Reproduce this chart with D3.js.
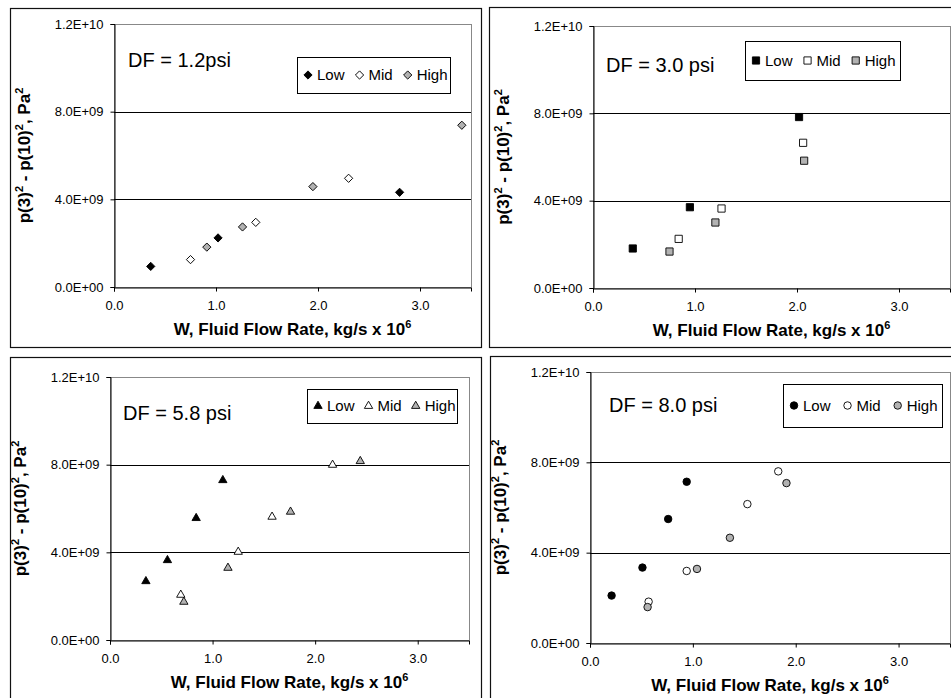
<!DOCTYPE html>
<html>
<head>
  <style>
    body { margin: 0; background: #fff; }
    svg { font-family: "Liberation Sans", Arial, sans-serif; }
  </style>
</head>
<body>
  <svg width="951" height="698"></svg>
  <script src="https://d3js.org/d3.v7.min.js"></script>
  <script>
    // data, [W (kg/s x 1e6), p3^2 - p10^2 (Pa^2)]
    const seriesNames = ["Low", "Mid", "High"];
    const xTicks = [0, 1, 2, 3];
    const yTicks = [0, 4e9, 8e9, 1.2e10];
    const dfLabels = ["DF = 1.2psi", "DF = 3.0 psi", "DF = 5.8 psi", "DF = 8.0 psi"];

    const df12_low = [[0.36, 0.94e9], [1.02, 2.24e9], [2.80, 4.32e9]];
    const df12_mid = [[0.75, 1.25e9], [1.39, 2.95e9], [2.30, 4.96e9]];
    const df12_high = [[0.91, 1.82e9], [1.26, 2.74e9], [1.95, 4.58e9], [3.41, 7.38e9]];

    const df30_low = [[0.39, 1.81e9], [0.95, 3.70e9], [2.02, 7.83e9]];
    const df30_mid = [[0.84, 2.25e9], [1.26, 3.64e9], [2.06, 6.65e9]];
    const df30_high = [[0.75, 1.67e9], [1.20, 3.00e9], [2.07, 5.83e9]];

    const df58_low = [[0.35, 2.68e9], [0.56, 3.64e9], [0.84, 5.56e9], [1.10, 7.29e9]];
    const df58_mid = [[0.69, 2.06e9], [1.25, 4.02e9], [1.58, 5.62e9], [2.17, 7.99e9]];
    const df58_high = [[0.72, 1.74e9], [1.15, 3.29e9], [1.76, 5.85e9], [2.44, 8.16e9]];

    const df80_low = [[0.21, 2.10e9], [0.51, 3.34e9], [0.76, 5.49e9], [0.94, 7.14e9]];
    const df80_mid = [[0.57, 1.83e9], [0.94, 3.19e9], [1.53, 6.15e9], [1.83, 7.60e9]];
    const df80_high = [[0.56, 1.59e9], [1.04, 3.28e9], [1.36, 4.66e9], [1.91, 7.08e9]];

    const panelSeries = [
      [df12_low, df12_mid, df12_high],
      [df30_low, df30_mid, df30_high],
      [df58_low, df58_mid, df58_high],
      [df80_low, df80_mid, df80_high]
    ];

    // layout: outer frame, plot box, legend box, DF label position
    const layout = [
      { outer: [10, 8, 481, 347], plot: [114, 24, 471, 287], legend: [297, 57, 153, 36], label: [128, 67], shape: "diamond", gap: 15 },
      { outer: [489, 7, 962, 347], plot: [593, 26, 950, 288], legend: [745, 41, 155, 39], label: [606, 72], shape: "square", gap: 15 },
      { outer: [10, 357, 481, 712], plot: [110, 377, 469, 640], legend: [307, 389, 150, 34], label: [123, 420], shape: "triangle", gap: 14 },
      { outer: [490, 356, 962, 712], plot: [590, 372, 950, 643], legend: [783, 384, 159, 43], label: [609, 412], shape: "circle", gap: 17 }
    ];

    const fills = ["#000", "#fff", "#b2b2b2"];

    const svg = d3.select("svg");
    svg.append("rect").attr("width", 951).attr("height", 698).attr("fill", "#fff");

    const sciFormat = d => {
      if (d === 0) return "0.0E+00";
      const e = Math.floor(Math.log10(d) + 1e-9);
      const m = (d / Math.pow(10, e)).toFixed(1);
      return m + "E+" + String(e).padStart(2, "0");
    };

    function markerPath(shape) {
      if (shape === "diamond") return d3.symbol(d3.symbolSquare, 34)();
      if (shape === "square") return d3.symbol(d3.symbolSquare, 52)();
      if (shape === "triangle") return d3.symbol(d3.symbolTriangle, 30)();
      return d3.symbol(d3.symbolCircle, 44)();
    }
    const rot = shape => shape === "diamond" ? " rotate(45)" : "";

    layout.forEach((L, i) => {
      const [ox0, oy0, ox1, oy1] = L.outer;
      const [px0, py0, px1, py1] = L.plot;
      const g = svg.append("g");

      g.append("rect")
        .attr("x", ox0 + 0.5).attr("y", oy0 + 0.5)
        .attr("width", ox1 - ox0).attr("height", oy1 - oy0)
        .attr("fill", "none").attr("stroke", "#111").attr("stroke-width", 1.2);

      const x = d3.scaleLinear().domain([0, 3.5]).range([px0, px1]);
      const y = d3.scaleLinear().domain([0, 1.2e10]).range([py1, py0]);

      // plot area border (grey top/right)
      g.append("rect")
        .attr("x", px0 + 0.5).attr("y", py0 + 0.5)
        .attr("width", px1 - px0).attr("height", py1 - py0)
        .attr("fill", "none").attr("stroke", "#888");

      // gridlines
      g.selectAll(".grid").data(yTicks.filter(t => t > 0 && t < 1.2e10)).join("line")
        .attr("x1", px0).attr("x2", px1)
        .attr("y1", d => Math.round(y(d)) + 0.5).attr("y2", d => Math.round(y(d)) + 0.5)
        .attr("stroke", "#000");

      const xAxis = g.append("g")
        .attr("transform", `translate(0,${py1 + 0.5})`)
        .call(d3.axisBottom(x).tickValues(xTicks).tickFormat(d3.format(".1f")).tickSizeOuter(0).tickSize(4).tickPadding(9));
      const yAxis = g.append("g")
        .attr("transform", `translate(${px0 + 0.5},0)`)
        .call(d3.axisLeft(y).tickValues(yTicks).tickFormat(sciFormat).tickSizeOuter(0).tickSize(4).tickPadding(7));
      [xAxis, yAxis].forEach(a => {
        a.attr("font-family", "Liberation Sans, Arial, sans-serif").attr("font-size", 13);
        a.select(".domain").attr("stroke", "#000");
        a.selectAll("line").attr("stroke", "#000");
        a.selectAll("text").attr("fill", "#000");
      });

      // axis titles
      const xt = g.append("text")
        .attr("x", (px0 + px1) / 2).attr("y", py1 + 48)
        .attr("text-anchor", "middle").attr("font-weight", "bold").attr("font-size", 17);
      xt.append("tspan").text("W, Fluid Flow Rate, kg/s x 10");
      xt.append("tspan").attr("font-size", 11).attr("dy", -7).text("6");

      const yt = g.append("text")
        .attr("transform", `translate(${px0 - 84},${(py0 + py1) / 2}) rotate(-90)`)
        .attr("text-anchor", "middle").attr("font-weight", "bold").attr("font-size", 17);
      yt.append("tspan").text("p(3)");
      yt.append("tspan").attr("font-size", 11).attr("dy", -7).text("2");
      yt.append("tspan").attr("dy", 7).text(" - p(10)");
      yt.append("tspan").attr("font-size", 11).attr("dy", -7).text("2");
      yt.append("tspan").attr("dy", 7).text(", Pa");
      yt.append("tspan").attr("font-size", 11).attr("dy", -7).text("2");

      // DF label
      g.append("text").attr("x", L.label[0]).attr("y", L.label[1])
        .attr("font-size", 20).text(dfLabels[i]);

      // markers
      panelSeries[i].forEach((pts, s) => {
        g.selectAll(null).data(pts).join("path")
          .attr("d", markerPath(L.shape))
          .attr("transform", d => `translate(${x(d[0])},${y(d[1])})` + rot(L.shape))
          .attr("fill", fills[s]).attr("stroke", "#000").attr("stroke-width", 0.9);
      });

      // legend
      const [lx, ly, lw, lh] = L.legend;
      const lg = g.append("g");
      lg.append("rect").attr("x", lx + 0.5).attr("y", ly + 0.5).attr("width", lw).attr("height", lh)
        .attr("fill", "#fff").attr("stroke", "#000");
      let cx = lx + 11;
      seriesNames.forEach((name, s) => {
        lg.append("path").attr("d", markerPath(L.shape))
          .attr("transform", `translate(${cx},${ly + lh / 2})` + rot(L.shape))
          .attr("fill", fills[s]).attr("stroke", "#000").attr("stroke-width", 0.9);
        const t = lg.append("text").attr("x", cx + 9).attr("y", ly + lh / 2).attr("dy", "0.36em")
          .attr("font-size", 15).text(name);
        cx += 9 + t.node().getComputedTextLength() + L.gap;
      });
    });
  </script>
</body>
</html>
